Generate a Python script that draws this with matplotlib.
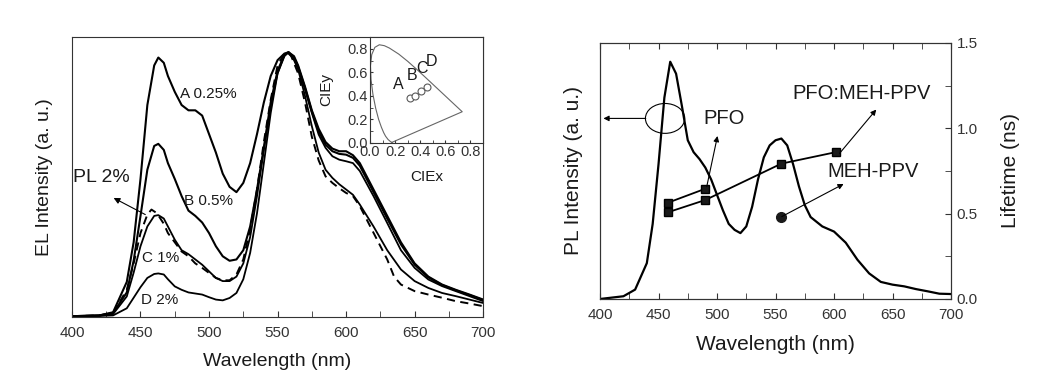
import matplotlib
matplotlib.use("Agg")
import matplotlib.pyplot as plt
from matplotlib.patches import Ellipse
from matplotlib.ticker import MultipleLocator

plt.rcParams.update({
    'font.family': ['Liberation Sans', 'DejaVu Sans'],
    'axes.linewidth': 0.8,
    'axes.edgecolor': '0.2',
    'xtick.color': '0.2',
    'ytick.color': '0.2',
    'text.color': '0.1',
    'axes.labelcolor': '0.1',
})

# ── Data: EL spectra (left panel), normalised ───────────────────────
el_wl = [400, 420, 430, 440, 445, 450, 455, 460, 463, 467, 470, 475, 480, 485,
         490, 495, 500, 505, 510, 515, 520, 525, 530, 535, 540, 545, 550, 555,
         558, 562, 565, 570, 575, 580, 585, 590, 595, 600, 605, 610, 620, 630,
         640, 650, 660, 670, 680, 690, 700]
el_a = [0, 0.003, 0.015, 0.13, 0.28, 0.52, 0.80, 0.95, 0.98, 0.96, 0.91, 0.85,
        0.80, 0.78, 0.78, 0.76, 0.69, 0.62, 0.54, 0.49, 0.47, 0.505, 0.58, 0.69,
        0.81, 0.91, 0.97, 0.995, 1.0, 0.985, 0.95, 0.87, 0.78, 0.71, 0.66,
        0.635, 0.625, 0.625, 0.61, 0.58, 0.48, 0.38, 0.28, 0.20, 0.15, 0.12,
        0.10, 0.082, 0.063]
el_b = [0, 0.003, 0.012, 0.09, 0.21, 0.38, 0.555, 0.645, 0.653, 0.63, 0.58,
        0.52, 0.455, 0.40, 0.38, 0.355, 0.315, 0.265, 0.227, 0.21, 0.215, 0.25,
        0.34, 0.48, 0.64, 0.81, 0.93, 0.99, 1.0, 0.98, 0.945, 0.865, 0.775,
        0.70, 0.65, 0.625, 0.615, 0.612, 0.60, 0.57, 0.47, 0.37, 0.272, 0.195,
        0.147, 0.118, 0.098, 0.08, 0.061]
el_c = [0, 0.002, 0.008, 0.075, 0.165, 0.265, 0.34, 0.38, 0.383, 0.37, 0.34,
        0.29, 0.25, 0.235, 0.215, 0.195, 0.17, 0.145, 0.133, 0.133, 0.15, 0.20,
        0.30, 0.455, 0.63, 0.795, 0.92, 0.99, 1.0, 0.975, 0.94, 0.86, 0.77,
        0.688, 0.638, 0.606, 0.593, 0.587, 0.58, 0.55, 0.455, 0.353, 0.25,
        0.183, 0.139, 0.114, 0.095, 0.076, 0.057]
el_d = [0, 0.001, 0.003, 0.03, 0.07, 0.11, 0.145, 0.16, 0.162, 0.158, 0.14,
        0.113, 0.10, 0.09, 0.086, 0.082, 0.072, 0.063, 0.06, 0.069, 0.088, 0.14,
        0.24, 0.39, 0.58, 0.77, 0.92, 0.985, 1.0, 0.97, 0.935, 0.835, 0.72,
        0.62, 0.555, 0.524, 0.50, 0.48, 0.46, 0.423, 0.34, 0.25, 0.177, 0.133,
        0.107, 0.088, 0.076, 0.063, 0.05]

pl2_wl = [400, 420, 430, 440, 445, 450, 455, 458, 462, 467, 470, 475, 480, 485,
          490, 495, 500, 505, 510, 515, 520, 525, 530, 535, 540, 545, 550, 555,
          557, 560, 565, 570, 575, 580, 585, 590, 595, 600, 605, 610, 620, 630,
          635, 640, 650, 660, 670, 680, 690, 700]
pl2 = [0, 0.003, 0.012, 0.10, 0.20, 0.315, 0.385, 0.404, 0.39, 0.35, 0.315,
       0.28, 0.245, 0.227, 0.20, 0.183, 0.164, 0.145, 0.136, 0.136, 0.158, 0.215,
       0.33, 0.48, 0.66, 0.82, 0.95, 0.995, 1.0, 0.985, 0.92, 0.81, 0.68, 0.59,
       0.53, 0.505, 0.485, 0.467, 0.455, 0.417, 0.316, 0.215, 0.15, 0.12, 0.095,
       0.082, 0.07, 0.057, 0.048, 0.038]

# ── Data: CIE inset ─────────────────────────────────────────────────
locus_x = [0.1741, 0.1644, 0.1440, 0.1241, 0.1096, 0.0913, 0.0687, 0.0454,
           0.0235, 0.0082, 0.0039, 0.0139, 0.0389, 0.0743, 0.1142, 0.1547,
           0.2296, 0.3016, 0.3731, 0.4441, 0.5125, 0.5752, 0.6270, 0.6915,
           0.7190, 0.7347, 0.1741]
locus_y = [0.0050, 0.0109, 0.0297, 0.0578, 0.0868, 0.1327, 0.2007, 0.2950,
           0.4127, 0.5384, 0.6548, 0.7502, 0.8120, 0.8338, 0.8262, 0.8059,
           0.7543, 0.6923, 0.6245, 0.5547, 0.4866, 0.4242, 0.3725, 0.3083,
           0.2809, 0.2653, 0.0050]
cie_x = [0.317, 0.357, 0.405, 0.451]
cie_y = [0.383, 0.403, 0.440, 0.475]
cie_labels = ["A", "B", "C", "D"]

# ── Data: PL spectrum and lifetimes (right panel) ───────────────────
pl_wl = [400, 420, 430, 440, 445, 450, 455, 460, 465, 470, 475, 480, 485, 490,
         495, 500, 505, 510, 515, 520, 525, 530, 535, 540, 545, 550, 555, 560,
         565, 570, 575, 580, 590, 600, 610, 620, 630, 640, 650, 660, 670, 680,
         690, 700]
pl_int = [0, 0.016, 0.055, 0.21, 0.44, 0.79, 1.18, 1.39, 1.32, 1.13, 0.93, 0.86,
          0.82, 0.77, 0.70, 0.61, 0.52, 0.44, 0.405, 0.386, 0.425, 0.54, 0.70,
          0.83, 0.90, 0.93, 0.94, 0.90, 0.79, 0.66, 0.55, 0.48, 0.425, 0.395,
          0.33, 0.23, 0.15, 0.10, 0.084, 0.074, 0.058, 0.045, 0.031, 0.029]
pfo_wl = [458, 490]
pfo_tau = [0.564, 0.646]
blend_wl = [458, 490, 555, 602]
blend_tau = [0.508, 0.58, 0.793, 0.861]
meh_wl = [555]
meh_tau = [0.479]

fig = plt.figure(figsize=(10.49, 3.80), dpi=100)

# ── Left panel: EL ──────────────────────────────────────────────────
ax1 = fig.add_axes([0.0686, 0.1658, 0.392, 0.737])
ax1.plot(el_wl, el_a, color='k', lw=1.5)
ax1.plot(el_wl, el_b, color='k', lw=1.5)
ax1.plot(el_wl, el_c, color='k', lw=1.3)
ax1.plot(el_wl, el_d, color='k', lw=1.3)
ax1.plot(pl2_wl, pl2, color='k', lw=1.4, ls=(0, (4.2, 2.8)))
ax1.set_xlim(400, 700)
ax1.set_ylim(-0.003, 1.058)
ax1.xaxis.set_major_locator(MultipleLocator(50))
ax1.xaxis.set_minor_locator(MultipleLocator(25))
ax1.tick_params(axis='x', which='both', direction='in', labelsize=11, pad=6.5,
                length=4)
ax1.tick_params(axis='y', which='both', left=False, labelleft=False)
ax1.set_xlabel("Wavelength (nm)", fontsize=14, labelpad=9)
ax1.set_ylabel("EL Intensity (a. u.)", fontsize=14, labelpad=14)

ax1.text(479, 0.84, "A 0.25%", fontsize=11, va='center')
ax1.text(481.5, 0.436, "B 0.5%", fontsize=11, va='center')
ax1.text(451, 0.22, "C 1%", fontsize=11, va='center')
ax1.text(450.6, 0.06, "D 2%", fontsize=11, va='center')
ax1.text(400.5, 0.524, "PL 2%", fontsize=14, va='center')
ax1.annotate("", xy=(430.4, 0.448), xytext=(453.5, 0.385),
             arrowprops=dict(arrowstyle='-|>', color='k', lw=0.8,
                             mutation_scale=9, shrinkA=0, shrinkB=0))

# ── Inset: CIE diagram ──────────────────────────────────────────────
axi = fig.add_axes([0.3527, 0.6237, 0.1077, 0.279])
axi.plot(locus_x, locus_y, color='0.4', lw=0.8)
axi.plot(cie_x, cie_y, ls='none', marker='o', ms=5, mfc='white',
         mec='0.35', mew=0.8)
for lx, ly, lab in zip([0.225, 0.335, 0.412, 0.49],
                       [0.50, 0.572, 0.632, 0.69], cie_labels):
    axi.text(lx, ly, lab, fontsize=11.5, ha='center', va='center')
axi.set_xlim(0, 0.9)
axi.set_ylim(0, 0.9)
axi.set_xticks([0.0, 0.2, 0.4, 0.6, 0.8])
axi.set_yticks([0.0, 0.2, 0.4, 0.6, 0.8])
axi.xaxis.set_minor_locator(MultipleLocator(0.1))
axi.yaxis.set_minor_locator(MultipleLocator(0.1))
axi.tick_params(which='both', direction='in', labelsize=10.5, pad=1.5,
                length=2.5)
axi.set_xlabel("CIEx", fontsize=11, labelpad=8)
axi.set_ylabel("CIEy", fontsize=11, labelpad=10)

# ── Right panel: PL + lifetimes ─────────────────────────────────────
ax2 = fig.add_axes([0.572, 0.2132, 0.3346, 0.6737])
ax2.plot(pl_wl, pl_int, color='k', lw=1.6)
ax2.set_xlim(400, 700)
ax2.set_ylim(0, 1.5)
ax2.xaxis.set_major_locator(MultipleLocator(50))
ax2.xaxis.set_minor_locator(MultipleLocator(25))
ax2.set_xlabel("Wavelength (nm)", fontsize=15, labelpad=9)
ax2.set_ylabel("PL Intensity (a. u.)", fontsize=15, labelpad=12)

ax3 = ax2.twinx()
# twinx switches the left ticks back on, so set them afterwards
ax2.tick_params(axis='x', which='both', direction='in', top=True, length=4,
                labelsize=11, pad=6.5)
ax2.tick_params(axis='y', which='both', left=False, right=False,
                labelleft=False)

ax3.plot(pfo_wl, pfo_tau, color='k', lw=1.3, marker='s', ms=6, mfc='#1a1a1a')
ax3.plot(blend_wl, blend_tau, color='k', lw=1.3, marker='s', ms=6,
         mfc='#1a1a1a')
ax3.plot(meh_wl, meh_tau, ls='none', marker='o', ms=7, color='#1a1a1a')
ax3.set_ylim(0, 1.5)
ax3.set_yticks([0.0, 0.5, 1.0, 1.5])
ax3.set_yticklabels(["0.0", "0.5", "1.0", "1.5"])
ax3.yaxis.set_minor_locator(MultipleLocator(0.25))
ax3.tick_params(axis='y', which='both', direction='in', length=4,
                labelsize=11, pad=4)
ax3.set_ylabel("Lifetime (ns)", fontsize=15, labelpad=17)

ax3.add_patch(Ellipse((455.6, 1.058), 33.6, 0.175, fill=False,
                      edgecolor='k', lw=0.8))
arrow_kw = dict(arrowstyle='-|>', color='k', lw=0.8, mutation_scale=8,
                shrinkA=0, shrinkB=0)
ax3.annotate("", xy=(402.9, 1.058), xytext=(439.1, 1.058),
             arrowprops=arrow_kw)
ax3.annotate("", xy=(500.4, 0.955), xytext=(491.2, 0.658),
             arrowprops=arrow_kw)
ax3.annotate("", xy=(636.1, 1.11), xytext=(604.7, 0.853),
             arrowprops=arrow_kw)
ax3.annotate("", xy=(608.2, 0.674), xytext=(555.4, 0.483),
             arrowprops=arrow_kw)
ax3.text(488.4, 1.058, "PFO", fontsize=14.5, va='center')
ax3.text(564, 1.204, "PFO:MEH-PPV", fontsize=14.5, va='center')
ax3.text(593.9, 0.746, "MEH-PPV", fontsize=14.5, va='center')

fig.savefig("out.png", dpi=100)
